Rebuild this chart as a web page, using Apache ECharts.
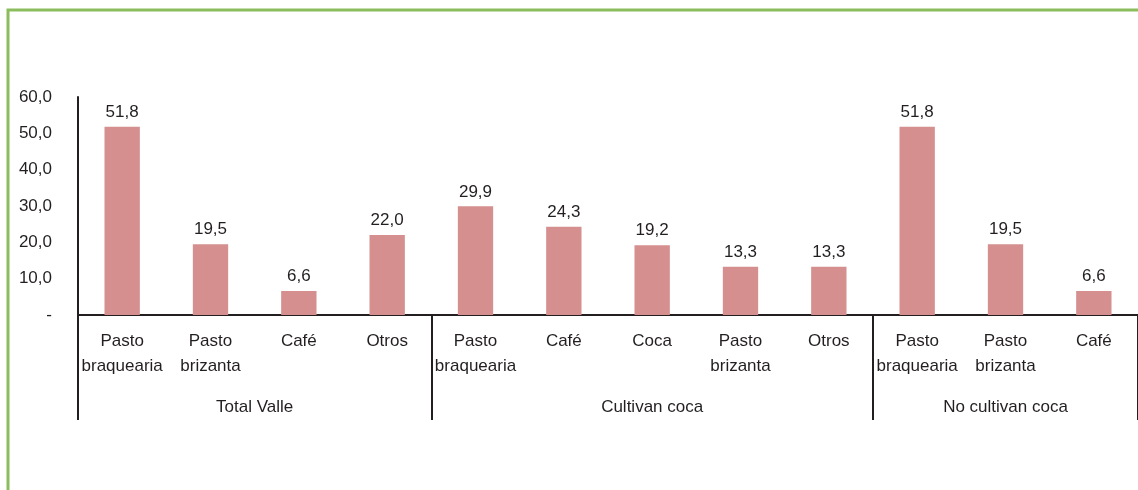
<!DOCTYPE html>
<html>
<head>
<meta charset="utf-8">
<script src="https://cdn.jsdelivr.net/npm/echarts@6/dist/echarts.min.js"></script>
<style>
html,body{margin:0;padding:0;background:#fff;}
#c{width:1138px;height:490px;}
</style>
</head>
<body>
<div id="c"></div>
<script>
const categories = [
  "Pasto\nbraquearia", "Pasto\nbrizanta", "Café", "Otros",
  "Pasto\nbraquearia", "Café", "Coca", "Pasto\nbrizanta", "Otros",
  "Pasto\nbraquearia", "Pasto\nbrizanta", "Café"
];
const values = [51.8, 19.5, 6.6, 22.0, 29.9, 24.3, 19.2, 13.3, 13.3, 51.8, 19.5, 6.6];
const groups = ["Total Valle", "Cultivan coca", "No cultivan coca"];
const groupSizes = [4, 5, 3];
const yTicks = [0, 10, 20, 30, 40, 50, 60];

const bounds = [0];
groupSizes.forEach(s => bounds.push(bounds[bounds.length - 1] + s));
const mids = groupSizes.map((s, i) => bounds[i] + s / 2);

const fmt = v => v === 0 ? "-" : v.toFixed(1).replace(".", ",");
const font = "'Liberation Sans', Arial, sans-serif";
const txt = "#231f20";
const fs = 17;

const chart = echarts.init(document.getElementById('c'), null, {renderer: 'canvas'});
chart.setOption({
  animation: false,
  graphic: [{
    type: 'rect', silent: true, z: -10,
    shape: {x: 8, y: 10, width: 1300, height: 700},
    style: {fill: 'none', stroke: '#8cbd5c', lineWidth: 3}
  }],
  grid: {left: 78, top: 97, width: 1062, height: 218},
  xAxis: [{
    type: 'category',
    data: categories,
    axisLine: {lineStyle: {color: txt, width: 2}},
    axisTick: {show: false},
    axisLabel: {interval: 0, margin: 14, fontFamily: font, fontSize: fs, color: txt, lineHeight: 25}
  }, {
    type: 'value', min: 0, max: bounds[bounds.length - 1],
    position: 'bottom',
    axisLine: {show: false},
    splitLine: {show: false},
    axisTick: {show: true, customValues: bounds, length: 105, lineStyle: {color: txt, width: 2}},
    axisLabel: {
      customValues: mids, margin: 84, fontFamily: font, fontSize: fs, color: txt,
      formatter: v => groups[mids.indexOf(v)]
    }
  }],
  yAxis: {
    type: 'value', min: yTicks[0], max: yTicks[yTicks.length - 1], interval: 10,
    axisLine: {show: true, lineStyle: {color: txt, width: 2}},
    axisTick: {show: false},
    splitLine: {show: false},
    axisLabel: {margin: 26, fontFamily: font, fontSize: fs, color: txt, formatter: fmt}
  },
  series: [{
    type: 'bar',
    data: values,
    barWidth: '40%',
    itemStyle: {color: '#d48f8e'},
    label: {show: true, position: 'top', distance: 6, fontFamily: font, fontSize: fs, color: txt,
      formatter: p => fmt(p.value)}
  }]
});
</script>
</body>
</html>
